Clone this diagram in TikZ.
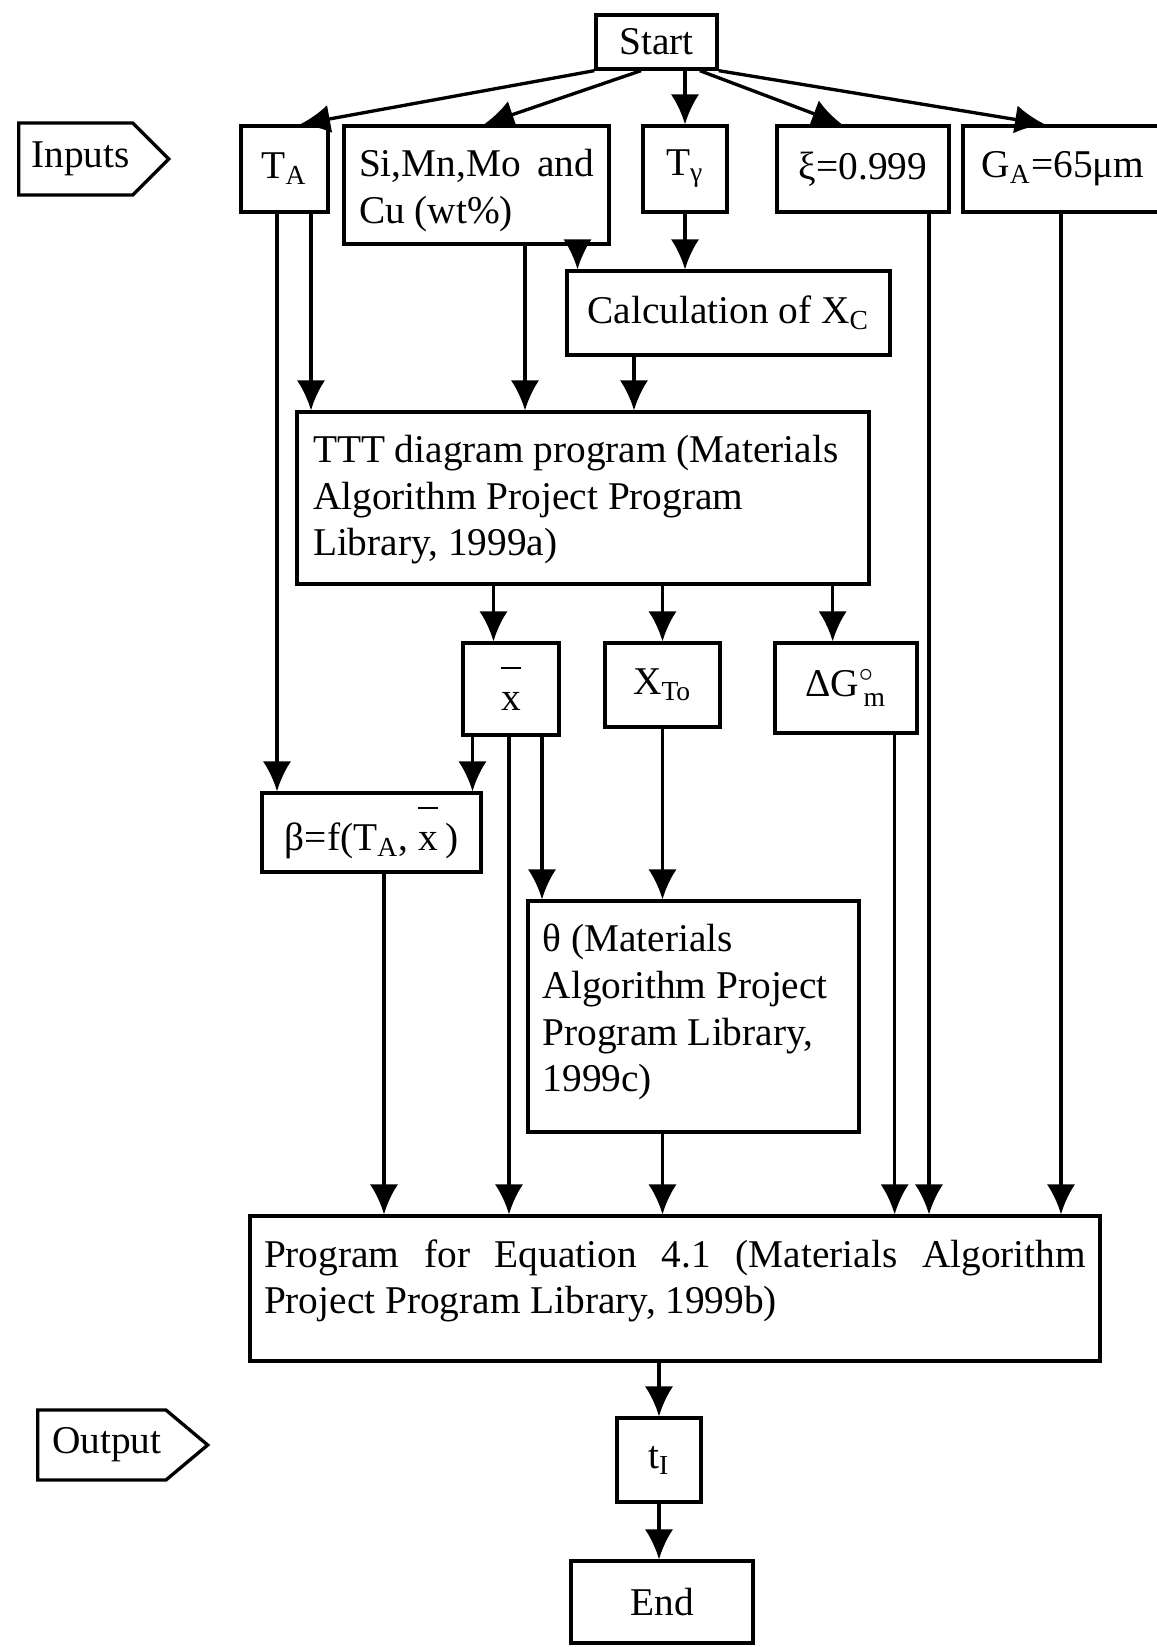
\documentclass[tikz,border=0pt]{standalone}
\usepackage{fontspec}
\usepackage{amsmath}
\setmainfont{Liberation Serif}
\usetikzlibrary{arrows.meta,shapes.symbols}
\tikzset{main box/.style={draw,rectangle,line width=1pt,inner sep=0pt},
         tag box/.style={draw,signal,signal to=east,line width=1pt,inner sep=0pt,anchor=west},
         flow/.style={-{Latex[length=9pt,width=8.5pt]},line width=1pt},}
\newcommand{\barx}{\shortstack{\rule{6pt}{0.6pt}\\[4pt]x}}
\newcommand{\topbox}[4]{\parbox[c][#2][t]{#1}{\vspace{#3}#4}}

\begin{document}
\begin{tikzpicture}[x=0.3pt,y=-0.3pt,font=\fontsize{11.8}{14}\selectfont]
    \useasboundingbox (0,0) rectangle (1156,1647);

    % first row
    \node[main box,minimum width=36.3pt,minimum height=16.2pt] (start) at (656.5,42) {Start};
    \node[tag box,minimum width=45pt,minimum height=21.6pt,signal pointer angle=90] (inputs) at (17,159) {\hspace{3pt}Inputs};
    \node[main box,minimum width=26.1pt,minimum height=25.8pt] (TA) at (284.5,169) {T\textsubscript{A}};
    \node[main box,minimum width=79.5pt,minimum height=35.4pt,inner xsep=4.5pt] (alloy) at (476.5,185)
        {\topbox{70.5pt}{35.4pt}{7pt}{\makebox[\linewidth][s]{Si,Mn,Mo and}\\Cu (wt\%)}};
    \node[main box,minimum width=25.2pt,minimum height=25.8pt] (Tg) at (685,169) {T\textsubscript{γ}};
    \node[main box,minimum width=51.6pt,minimum height=25.8pt] (xi) at (863,169) {ξ=0.999};
    \node[main box,minimum width=60pt,minimum height=25.8pt] (GA) at (1063,169) {G\textsubscript{A}=65μm\hspace{10pt}};

    % programs
    \node[main box,minimum width=96.9pt,minimum height=25.2pt] (calc) at (728.5,313) {Calculation of X\textsubscript{C}};
    \node[main box,minimum width=171.6pt,minimum height=51.6pt,inner xsep=4.8pt] (ttt) at (583,498)
        {\topbox{162pt}{51.6pt}{7pt}{TTT diagram program (Materials\\Algorithm Project Program\\Library, 1999a)}};
    \node[main box,minimum width=28.8pt,minimum height=27.6pt] (xbar) at (511,689) {\barx};
    \node[main box,minimum width=34.5pt,minimum height=25.2pt] (xto) at (662.5,685) {X\textsubscript{To}};
    \node[main box,minimum width=42.6pt,minimum height=27pt] (dG) at (846,688) {ΔG$^{\circ}_{\,\text{m}}$};
    \node[main box,minimum width=65.7pt,minimum height=23.7pt] (beta) at (371.5,832.5) {β=f(T\textsubscript{A}, \barx\,)};
    \node[main box,minimum width=99.3pt,minimum height=69.3pt,inner xsep=4.4pt] (theta) at (693.5,1016.5)
        {\topbox{90.5pt}{69.3pt}{7pt}{θ (Materials\\Algorithm Project\\Program Library,\\1999c)}};
    \node[main box,minimum width=255pt,minimum height=43.5pt,inner xsep=4.2pt] (prog) at (675,1288.5)
        {\topbox{246.6pt}{43.5pt}{7pt}{\makebox[\linewidth][s]{Program for Equation 4.1 (Materials Algorithm}\\Project Program Library, 1999b)}};

    % result
    \node[tag box,minimum width=51pt,minimum height=21pt,signal pointer angle=80] (output) at (36,1445) {\hspace{3pt}Output};
    \node[main box,minimum width=25.2pt,minimum height=25.2pt] (tI) at (659,1460) {t\textsubscript{I}};
    \node[main box,minimum width=54.6pt,minimum height=24.6pt] (stop) at (662,1602) {End};

    % from start
    \draw[flow] (start.south west) -- ([xshift=4.65pt]TA.north);
    \draw[flow] ([xshift=-4.65pt]start.south) -- ([xshift=2.25pt]alloy.north);
    \draw[flow] (start.south -| Tg) -- (Tg.north);
    \draw[flow] ([xshift=13pt]start.south) -- ([xshift=-6.3pt]xi.north);
    \draw[flow] (start.south east) -- ([xshift=-5.4pt]GA.north);

    % inputs down
    \draw[flow] ([xshift=-2.25pt]TA.south) -- ([xshift=-2.25pt]TA.south |- beta.north);
    \draw[flow] ([xshift=7.95pt]TA.south) -- ([xshift=7.95pt]TA.south |- ttt.north);
    \draw[flow] ([xshift=14.55pt]alloy.south) -- ([xshift=14.55pt]alloy.south |- ttt.north);
    \draw[flow] ([xshift=30.3pt]alloy.south) -- ([xshift=30.3pt]alloy.south |- calc.north);
    \draw[flow] (Tg.south) -- (Tg.south |- calc.north);
    \draw[flow] ([xshift=-28.35pt]calc.south) -- ([xshift=-28.35pt]calc.south |- ttt.north);

    % ttt outputs
    \draw[flow] ([xshift=-5.25pt]xbar.north |- ttt.south) -- ([xshift=-5.25pt]xbar.north);
    \draw[flow] (xto.north |- ttt.south) -- (xto.north);
    \draw[flow] ([xshift=-4pt]dG.north |- ttt.south) -- ([xshift=-4pt]dG.north);
    \draw[flow] ([xshift=-11.55pt]xbar.south) -- ([xshift=-11.55pt]xbar.south |- beta.north);
    \draw[flow] ([xshift=9.3pt]xbar.south) -- ([xshift=9.3pt]xbar.south |- theta.north);
    \draw[flow] (xto.south) -- (xto.south |- theta.north);

    % into the program
    \draw[flow] ([xshift=3.75pt]beta.south) -- ([xshift=3.75pt]beta.south |- prog.north);
    \draw[flow] ([xshift=-0.6pt]xbar.south) -- ([xshift=-0.6pt]xbar.south |- prog.north);
    \draw[flow] (theta.south -| xto) -- (prog.north -| xto);
    \draw[flow] ([xshift=14.6pt]dG.south) -- ([xshift=14.6pt]dG.south |- prog.north);
    \draw[flow] ([xshift=19.8pt]xi.south) -- ([xshift=19.8pt]xi.south |- prog.north);
    \draw[flow] ([xshift=-0.6pt]GA.south) -- ([xshift=-0.6pt]GA.south |- prog.north);
    \draw[flow] (prog.south -| tI) -- (tI.north);
    \draw[flow] (tI.south) -- (tI.south |- stop.north);
\end{tikzpicture}
\end{document}
